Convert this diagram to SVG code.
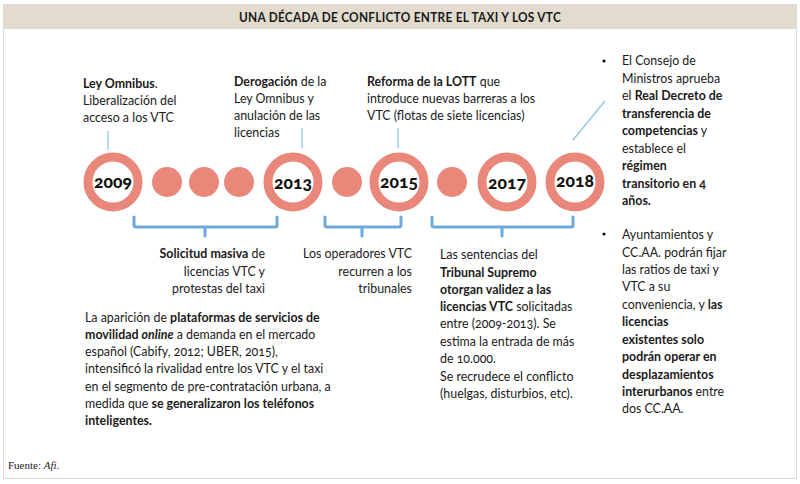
<svg xmlns="http://www.w3.org/2000/svg" width="800" height="484" viewBox="0 0 800 484">
<style>
  text { font-family: Lato, "Open Sans", "Liberation Sans", sans-serif; font-size: 12.4px; fill: #1a1a1a; font-variant-numeric: oldstyle-nums; }
  .b { font-weight: bold; }
  .bi { font-weight: bold; font-style: italic; }
  .yr { font-size: 17.5px; font-weight: 900; text-anchor: middle; fill: #111; }
  .ring { fill: #fff; stroke: #e9877b; stroke-width: 9; }
  .dot { fill: #e9877b; }
  .lead { stroke: #8cc2e6; stroke-width: 1.2; fill: none; }
  .brk { stroke: #6ea9da; stroke-width: 3; fill: none; stroke-linejoin: round; stroke-linecap: round; }
  .r { text-anchor: end; }
</style>
<rect x="0" y="0" width="800" height="484" fill="#fff"/>
<rect x="3.5" y="4.5" width="793" height="474" fill="#fff" stroke="#dcdcdc" stroke-width="1"/>
<rect x="4" y="5" width="792" height="24" fill="#e1dccd"/>
<text x="400" y="22" text-anchor="middle" class="b" style="font-size:12.5px;letter-spacing:0.3px" textLength="322" lengthAdjust="spacingAndGlyphs">UNA DÉCADA DE CONFLICTO ENTRE EL TAXI Y LOS VTC</text>

<g id="connectors">
  <line class="lead" x1="108" y1="131" x2="108" y2="150"/>
  <line class="lead" x1="302" y1="128" x2="302" y2="148"/>
  <line class="lead" x1="398" y1="128" x2="398" y2="148"/>
  <line class="lead" x1="573" y1="140" x2="605" y2="101"/>
  <path class="brk" d="M134,217 V225 Q134,227 136,227 H275 Q277,227 277,225 V217 M205,227 V236"/>
  <path class="brk" d="M325,217 V225 Q325,227 327,227 H399 Q401,227 401,225 V217 M362,227 V236"/>
  <path class="brk" d="M432,217 V225 Q432,227 434,227 H571 Q573,227 573,225 V217 M502,227 V236"/>
</g>

<g id="dots">
  <circle class="dot" cx="167" cy="182" r="15"/>
  <circle class="dot" cx="204" cy="182" r="15"/>
  <circle class="dot" cx="239" cy="182" r="15"/>
  <circle class="dot" cx="347" cy="182" r="15"/>
  <circle class="dot" cx="452" cy="182" r="15"/>
</g>

<g id="n2009">
  <circle class="ring" cx="113" cy="182" r="25"/>
  <text class="yr" x="113" y="188">2009</text>
  <text x="83" y="88"><tspan class="b">Ley Omnibus</tspan>.</text>
  <text x="83" y="105">Liberalización del</text>
  <text x="83" y="122">acceso a los VTC</text>
</g>

<g id="n2013">
  <circle class="ring" cx="293" cy="182" r="25"/>
  <text class="yr" x="293" y="189">2013</text>
  <text x="234" y="86"><tspan class="b">Derogación</tspan> de la</text>
  <text x="234" y="103">Ley Omnibus y</text>
  <text x="234" y="120">anulación de las</text>
  <text x="234" y="137">licencias</text>
</g>

<g id="n2015">
  <circle class="ring" cx="399" cy="182" r="25"/>
  <text class="yr" x="399" y="188">2015</text>
  <text x="367" y="86"><tspan class="b">Reforma de la LOTT</tspan> que</text>
  <text x="367" y="103">introduce nuevas barreras a los</text>
  <text x="367" y="120">VTC (flotas de siete licencias)</text>
</g>

<g id="n2017">
  <circle class="ring" cx="507" cy="182" r="25"/>
  <text class="yr" x="507" y="189">2017</text>
</g>

<g id="n2018">
  <circle class="ring" cx="575" cy="182" r="25"/>
  <text class="yr" x="575" y="187">2018</text>
  <circle cx="604" cy="61" r="1.6" fill="#111"/>
  <text x="622" y="65">El Consejo de</text>
  <text x="622" y="83">Ministros aprueba</text>
  <text x="622" y="100">el <tspan class="b">Real Decreto de</tspan></text>
  <text x="622" y="118" class="b">transferencia de</text>
  <text x="622" y="135"><tspan class="b">competencias</tspan> y</text>
  <text x="622" y="153">establece el</text>
  <text x="622" y="170" class="b">régimen</text>
  <text x="622" y="188" class="b">transitorio en 4</text>
  <text x="622" y="205" class="b">años.</text>
  <circle cx="604" cy="234" r="1.6" fill="#111"/>
  <text x="622" y="239">Ayuntamientos y</text>
  <text x="622" y="257">CC.AA. podrán fijar</text>
  <text x="622" y="274">las ratios de taxi y</text>
  <text x="622" y="291">VTC a su</text>
  <text x="622" y="309">conveniencia, y <tspan class="b">las</tspan></text>
  <text x="622" y="326" class="b">licencias</text>
  <text x="622" y="344" class="b">existentes solo</text>
  <text x="622" y="361" class="b">podrán operar en</text>
  <text x="622" y="379" class="b">desplazamientos</text>
  <text x="622" y="396"><tspan class="b">interurbanos</tspan> entre</text>
  <text x="622" y="413">dos CC.AA.</text>
</g>

<g id="p2009-2013">
  <text class="r" x="265" y="258"><tspan class="b">Solicitud masiva</tspan> de</text>
  <text class="r" x="265" y="276">licencias VTC y</text>
  <text class="r" x="265" y="293">protestas del taxi</text>
</g>

<g id="p2013-2015">
  <text class="r" x="412" y="258">Los operadores VTC</text>
  <text class="r" x="412" y="276">recurren a los</text>
  <text class="r" x="412" y="293">tribunales</text>
</g>

<g id="p2015-2018">
  <text x="440" y="259">Las sentencias del</text>
  <text x="440" y="277" class="b">Tribunal Supremo</text>
  <text x="440" y="294" class="b">otorgan validez a las</text>
  <text x="440" y="311"><tspan class="b">licencias VTC</tspan> solicitadas</text>
  <text x="440" y="328">entre (2009-2013). Se</text>
  <text x="440" y="346">estima la entrada de más</text>
  <text x="440" y="363">de 10.000.</text>
  <text x="440" y="381">Se recrudece el conflicto</text>
  <text x="440" y="398">(huelgas, disturbios, etc).</text>
</g>

<g id="context">
  <text x="85" y="322">La aparición de <tspan class="b">plataformas de servicios de</tspan></text>
  <text x="85" y="339"><tspan class="b">movilidad </tspan><tspan class="bi">online</tspan> a demanda en el mercado</text>
  <text x="85" y="356">español (Cabify, 2012; UBER, 2015),</text>
  <text x="85" y="373">intensificó la rivalidad entre los VTC y el taxi</text>
  <text x="85" y="391">en el segmento de pre-contratación urbana, a</text>
  <text x="85" y="408">medida que <tspan class="b">se generalizaron los teléfonos</tspan></text>
  <text x="85" y="425" class="b">inteligentes.</text>
</g>

<text x="8" y="469" style="font-family:'Liberation Serif',serif;font-size:11px;font-variant-numeric:normal">Fuente: <tspan font-style="italic">Afi</tspan>.</text>
</svg>
